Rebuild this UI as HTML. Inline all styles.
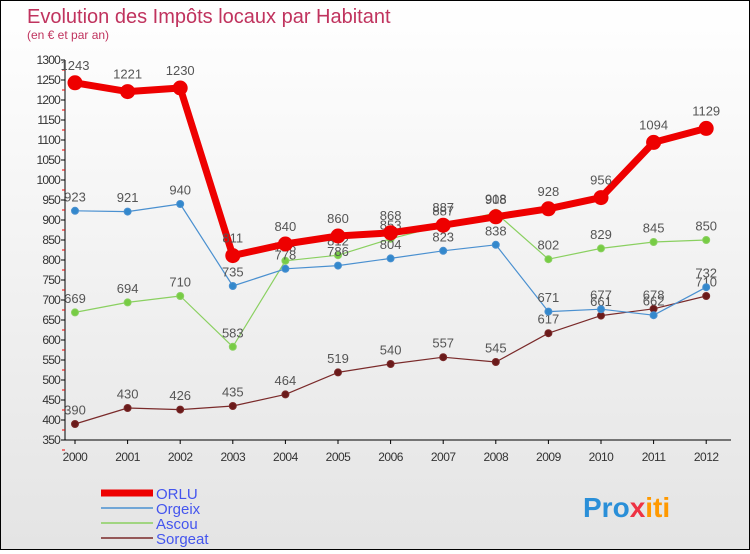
<!DOCTYPE html>
<html><head><meta charset="utf-8"><style>
body{margin:0;width:750px;height:550px;overflow:hidden;font-family:"Liberation Sans",sans-serif}
#wrap{position:relative;width:748px;height:548px;border:1px solid #000;background:linear-gradient(#fff,#e4e4e4)}
</style></head><body>
<div id="wrap">
<svg id="chart" width="748" height="548">
<text x="26" y="22" font-size="20" fill="#c0335e">Evolution des Impôts locaux par Habitant</text>
<text x="26" y="38" font-size="12" fill="#c0335e">(en € et par an)</text>
<g id="axes"></g><g id="series"></g><g id="legend"></g>
<text x="582" y="516" font-size="28" font-weight="bold" fill="#2a8fd8">Pro<tspan fill="#e34">x</tspan><tspan fill="#f90">iti</tspan></text>
</svg></div>
<script>
const years=[2000,2001,2002,2003,2004,2005,2006,2007,2008,2009,2010,2011,2012];
const orlu=[1243,1221,1230,811,840,860,868,887,908,928,956,1094,1129];
const orgeix=[923,921,940,735,778,786,804,823,838,671,677,662,732];
const ascou=[669,694,710,583,798,812,853,887,918,802,829,845,850];
const sorgeat=[390,430,426,435,464,519,540,557,545,617,661,678,710];
const seriesNames=["ORLU","Orgeix","Ascou","Sorgeat"];
const yTicks=[];for(let v=350;v<=1300;v+=50)yTicks.push(v);
const NS="http://www.w3.org/2000/svg";
const X=i=>74+i*52.6, Y=v=>59+(1300-v)*0.4;
function mk(t,a,p){const e=document.createElementNS(NS,t);for(const k in a)e.setAttribute(k,a[k]);p.appendChild(e);return e;}
const ax=document.getElementById('axes');
let l=mk('line',{x1:64,y1:Y(1300),x2:64,y2:Y(350),stroke:'#000'},ax);


l=mk('line',{x1:64,y1:Y(350),x2:730,y2:Y(350),stroke:'#000'},ax);


yTicks.forEach(v=>{mk('line',{x1:60,x2:64,y1:Y(v),y2:Y(v),stroke:'#000'},ax);
 mk('line',{x1:61,x2:64,y1:Y(v)+10,y2:Y(v)+10,stroke:'#e00'},ax);
 const t=mk('text',{x:59,y:Y(v)+4,'font-size':12,'text-anchor':'end',fill:'#333','letter-spacing':'-0.8'},ax);t.textContent=v;
 
 });
years.forEach((y,i)=>{mk('line',{x1:X(i),x2:X(i),y1:Y(350),y2:Y(350)+4,stroke:'#000'},ax);
 const t=mk('text',{x:X(i),y:Y(350)+21,'font-size':12,'text-anchor':'middle',fill:'#333','letter-spacing':'-0.5'},ax);t.textContent=y;
 
 });
const sg=document.getElementById('series');
function draw(data,name,color,w,r,fill){
 const g=mk('g',{},sg);
 
 
 mk('polyline',{points:data.map((v,i)=>X(i)+','+Y(v)).join(' '),fill:'none',stroke:color,'stroke-width':w,'stroke-linejoin':'round'},g);
 data.forEach((v,i)=>{const c=mk('circle',{cx:X(i),cy:Y(v),r:r,fill:fill,stroke:color,'stroke-width':1},g);
  
  
  const t=mk('text',{x:X(i),y:Y(v)-(r+6),'font-size':13,'text-anchor':'middle',fill:'#555'},g);t.textContent=v;
  
  });
}
draw(sorgeat,'Sorgeat','#7a2a2a',1.2,3.5,'#6a1a1a');
draw(ascou,'Ascou','#8ad060',1.2,3.5,'#77cc44');
draw(orgeix,'Orgeix','#4a90d0',1.2,3.5,'#3388cc');
draw(orlu,'ORLU','#ee0000',7,7,'#ee0000');
const lg=document.getElementById('legend');
const lc=['#ee0000','#4a90d0','#8ad060','#7a2a2a'],lw=[7,1.5,1.5,1.5];
seriesNames.forEach((n,i)=>{const y=492+i*15;
 const g=mk('g',{},lg);
 
 
 mk('line',{x1:100,x2:152,y1:y,y2:y,stroke:lc[i],'stroke-width':lw[i]},g);
 const t=mk('text',{x:155,y:y+6,'font-size':15,fill:'#4455ee'},g);t.textContent=n;});
</script></body></html>
